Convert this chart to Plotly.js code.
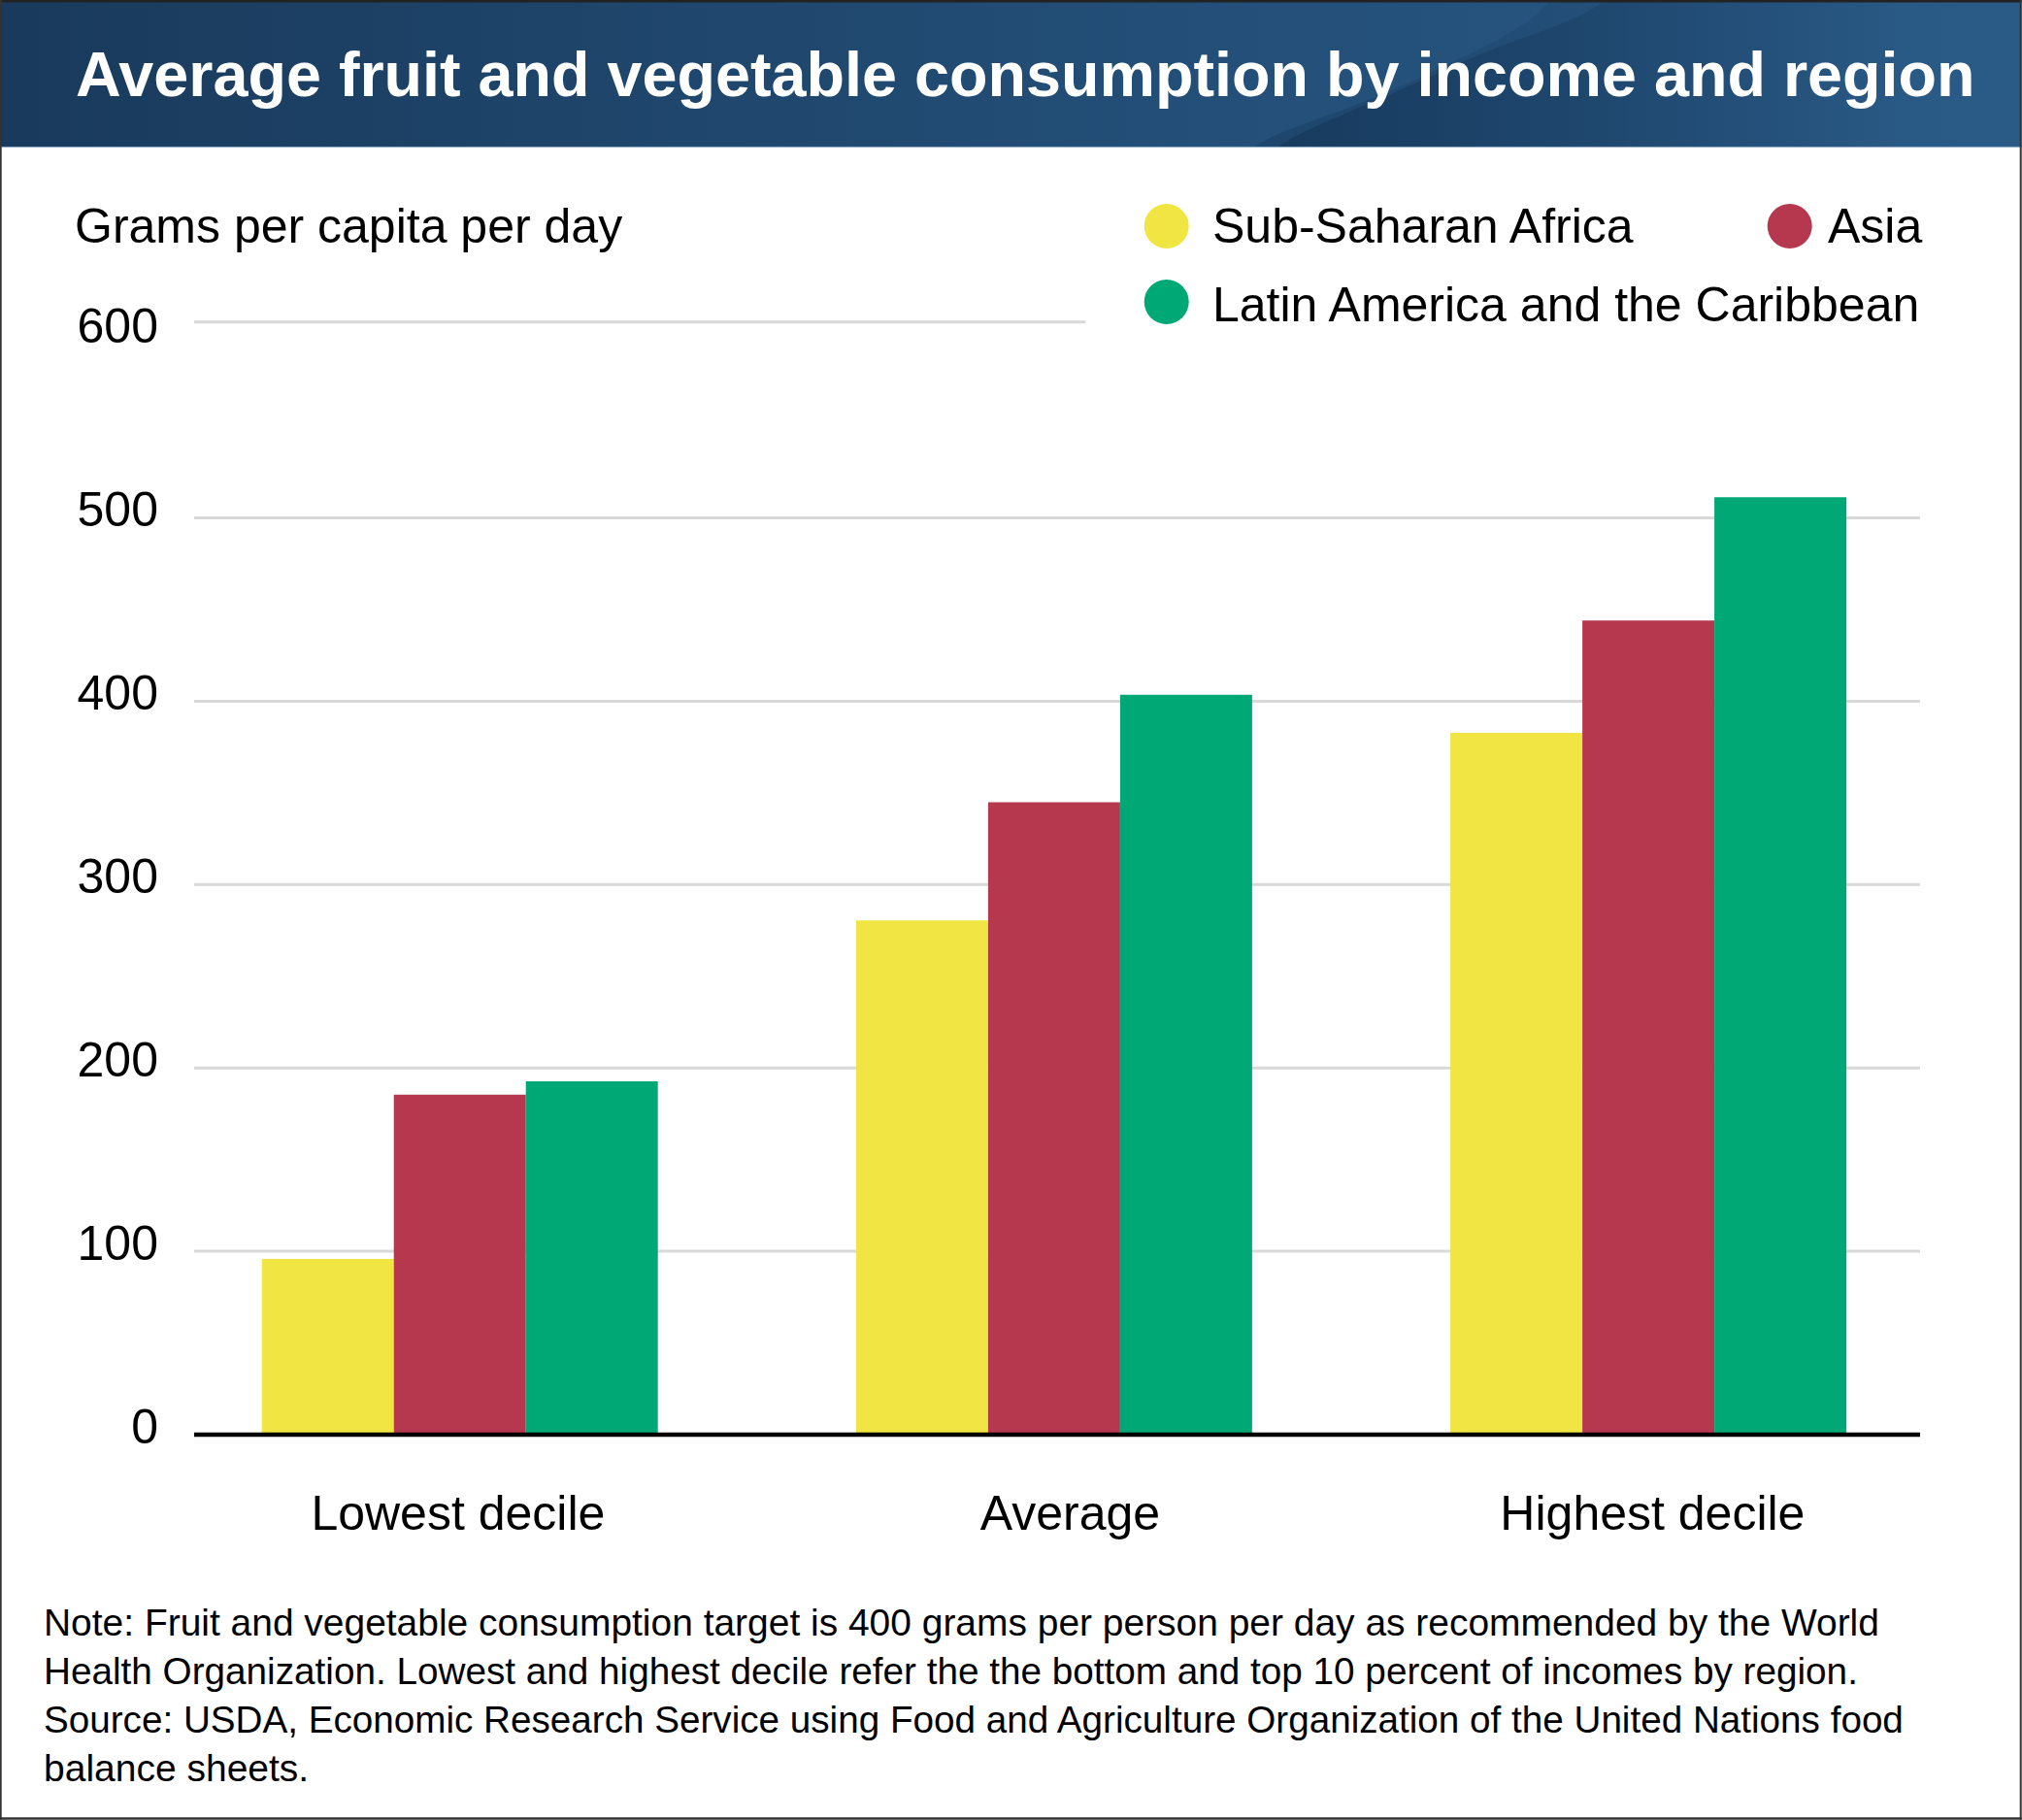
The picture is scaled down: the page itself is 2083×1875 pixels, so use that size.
<!DOCTYPE html>
<html>
<head>
<meta charset="utf-8">
<script src="https://cdn.plot.ly/plotly-3.0.1.min.js"></script>
<style>html,body{margin:0;padding:0;background:#fff}#chart{width:2083px;height:1875px}</style>
</head>
<body>
<div id="chart"></div>
<script>
// ---- data ----
const categories = ["Lowest decile", "Average", "Highest decile"];
const groupPositions = [0, 1, 2];
const labelPositions = [-0.003, 1.027, 2.007];
const subSaharanAfrica = [95.8, 280.5, 382.8];
const asia = [185.4, 344.9, 444.1];
const latinAmerica = [192.7, 403.5, 511.3];
const seriesNames = ["Sub-Saharan Africa", "Asia", "Latin America and the Caribbean"];
const seriesColors = ["#f0e542", "#b5384e", "#00a875"];
const yTicks = [0, 100, 200, 300, 400, 500, 600];
const gridValues = [100, 200, 300, 400, 500];
const topGridValue = 606.9;
const titleText = "Average fruit and vegetable consumption by income and region";
const unitText = "Grams per capita per day";
const noteLines = [
  "Note: Fruit and vegetable consumption target is 400 grams per person per day as recommended by the World",
  "Health Organization. Lowest and highest decile refer the the bottom and top 10 percent of incomes by region.",
  "Source: USDA, Economic Research Service using Food and Agriculture Organization of the United Nations food",
  "balance sheets."
];

// ---- page geometry ----
const W = 2083, H = 1875;
const M = {l: 200.3, r: 104.7, t: 322.1, b: 396.7};
const xp = px => (px - M.l) / (W - M.l - M.r);
const yp = py => (H - M.b - py) / (H - M.t - M.b);
const FONT = "Liberation Sans, Arial, sans-serif";

const headerSvg = `<svg xmlns="http://www.w3.org/2000/svg" width="2083" height="152" viewBox="0 0 2083 152">
<defs>
<linearGradient id="a" x1="0" x2="1" y1="0" y2="0"><stop offset="0" stop-color="#193a5c"/><stop offset=".5" stop-color="#224c74"/><stop offset=".75" stop-color="#25537d"/><stop offset="1" stop-color="#2a5b87"/></linearGradient>
<linearGradient id="b" gradientUnits="userSpaceOnUse" x1="1290" x2="1960" y1="0" y2="0"><stop offset="0" stop-color="#102c4c" stop-opacity=".55"/><stop offset="1" stop-color="#102c4c" stop-opacity="0"/></linearGradient>
</defs>
<rect width="2083" height="152" fill="url(#a)"/>
<path d="M1293 152C1310 135 1390 115 1463 80C1530 47 1575 30 1597 0H2083V152Z" fill="url(#b)" opacity=".5"/>
<path d="M1317 152C1335 135 1420 105 1497 68C1570 35 1625 25 1653 0H2083V152Z" fill="url(#b)" opacity=".8"/>
<rect y="151" width="2083" height="1.5" fill="#8fa9c2"/>
</svg>`;

const seriesValues = [subSaharanAfrica, asia, latinAmerica];
const traces = seriesValues.map((vals, i) => ({
  type: "bar",
  name: seriesNames[i],
  x: groupPositions,
  y: vals,
  marker: {color: seriesColors[i], line: {width: 0}},
  showlegend: false,
  hoverinfo: "name+y"
}));

const gridLine = (val, x1) => ({
  type: "line", layer: "below", xref: "paper", yref: "y",
  x0: 0, x1: x1, y0: val, y1: val,
  line: {color: "#d9d9d9", width: 3}
});
const circle = (cx, cy, color) => ({
  type: "circle", layer: "above", xref: "paper", yref: "paper",
  x0: xp(cx - 23), x1: xp(cx + 23), y0: yp(cy + 23), y1: yp(cy - 23),
  fillcolor: color, line: {width: 0}
});
const frame = (x0, y0, x1, y1, color) => ({
  type: "rect", layer: "above", xref: "paper", yref: "paper",
  x0: xp(x0), x1: xp(x1), y0: yp(y1), y1: yp(y0), fillcolor: color, line: {width: 0}
});
const label = (text, x, baseline, size, anchor) => ({
  text: text, showarrow: false, xref: "paper", yref: "paper",
  x: xp(x), y: yp(baseline - 0.33 * size), xanchor: anchor || "left", yanchor: "middle",
  font: {family: FONT, size: size, color: "#000"}, borderpad: 0, align: "left"
});

const noteSizes = [38.95, 38.7, 38.65, 39];
const layout = {
  width: W, height: H,
  margin: M,
  paper_bgcolor: "#fff", plot_bgcolor: "rgba(0,0,0,0)",
  font: {family: FONT, color: "#000"},
  barmode: "group", bargap: 0.3336, bargroupgap: 0,
  title: {
    text: "<b>" + titleText + "</b>",
    font: {family: FONT, size: 64.7, color: "#fff"},
    xref: "container", yref: "container",
    x: 78 / W, xanchor: "left",
    y: 1 - 76 / H, yanchor: "middle", pad: {t: 0, b: 0, l: 0, r: 0}
  },
  xaxis: {
    type: "linear", range: [-0.4471, 2.4572], fixedrange: true,
    tickmode: "array", tickvals: labelPositions, ticktext: categories,
    tickfont: {family: FONT, size: 50, color: "#000"},
    ticks: "", showgrid: false, zeroline: false,
    showline: false,
    ticklabelstandoff: 47
  },
  yaxis: {
    range: [0, 612], fixedrange: true,
    tickmode: "array", tickvals: yTicks, ticktext: yTicks.map(String),
    tickfont: {family: FONT, size: 50, color: "#000"},
    ticks: "", showgrid: false, zeroline: false, showline: false,
    ticklabelstandoff: 36, ticklabelshift: -9
  },
  images: [{
    source: "data:image/svg+xml;charset=utf-8," + encodeURIComponent(headerSvg),
    xref: "paper", yref: "paper", x: xp(0), y: yp(0),
    sizex: xp(W) - xp(0), sizey: yp(0) - yp(152),
    sizing: "stretch", xanchor: "left", yanchor: "top", layer: "below"
  }],
  shapes: [
    ...gridValues.map(v => gridLine(v, 1)),
    gridLine(topGridValue, xp(1118.6)),
    {type: "line", layer: "above", xref: "paper", yref: "paper", x0: 0, x1: 1, y0: 0, y1: 0,
     line: {color: "#000", width: 4.5}},
    circle(1202, 233, seriesColors[0]),
    circle(1844, 233, seriesColors[1]),
    circle(1202, 311, seriesColors[2]),
    frame(0, 0, W, 2.5, "#222"),
    frame(0, 0, 2, H, "#333"),
    frame(W - 2, 0, W, H, "#333"),
    frame(0, H - 2.5, W, H, "#333")
  ],
  annotations: [
    label(unitText, 76.7, 249.7, 50),
    label(seriesNames[0], 1248.7, 249.7, 50),
    label(seriesNames[1], 1882, 249.7, 50),
    label(seriesNames[2], 1248.7, 330.7, 50),
    ...noteLines.map((t, i) => label(t, 44.5, 1685 + 50 * i, noteSizes[i]))
  ]
};

Plotly.newPlot("chart", traces, layout, {displayModeBar: false, responsive: false});
</script>
</body>
</html>
